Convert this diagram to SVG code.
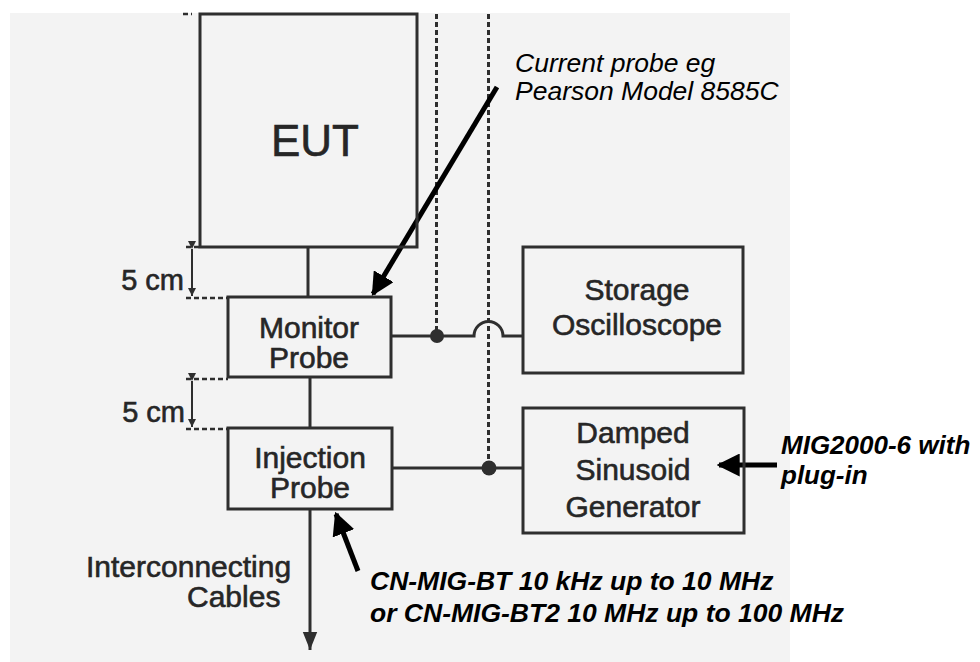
<svg xmlns="http://www.w3.org/2000/svg" width="980" height="662" viewBox="0 0 980 662">
<style>
.box{fill:none;stroke:#2e2e2e;stroke-width:3}
.wire{fill:none;stroke:#2e2e2e;stroke-width:3}
.dot{fill:none;stroke:#2e2e2e;stroke-width:3;stroke-dasharray:5 3}
.dash{fill:none;stroke:#2e2e2e;stroke-width:2.5;stroke-dasharray:5 3}
.lbl{font-family:"Liberation Sans",Arial,sans-serif;font-size:30px;fill:#262626;stroke:#262626;stroke-width:0.6}
.note{font-family:"Liberation Sans",Arial,sans-serif;font-style:italic;fill:#000}
.bold{font-weight:bold}
.thick{fill:none;stroke:#000;stroke-width:5}
</style>
<defs>
<marker id="ah" viewBox="0 0 10 10" refX="9" refY="5" markerWidth="4.6" markerHeight="4.6" orient="auto" markerUnits="strokeWidth">
<path d="M0,0 L10,5 L0,10 z" fill="#000"/>
</marker>
<marker id="ah2" viewBox="0 0 10 10" refX="10" refY="5" markerWidth="6" markerHeight="6" orient="auto" markerUnits="strokeWidth">
<path d="M0,1 L10,5 L0,9 z" fill="#2e2e2e"/>
</marker>
<marker id="dimA" viewBox="0 0 10 10" refX="10" refY="5" markerWidth="4" markerHeight="4" orient="auto" markerUnits="strokeWidth">
<path d="M0,0 L10,5 L0,10 z" fill="#2e2e2e"/>
</marker>
</defs>
<rect x="10" y="13" width="780" height="649" fill="#f3f3f3"/>

<g id="connectors">
<line class="dot" x1="436.5" y1="14" x2="436.5" y2="336"/>
<line class="dot" x1="488.5" y1="14" x2="488.5" y2="468"/>
<line class="wire" x1="308" y1="247" x2="308" y2="298"/>
<line class="wire" x1="310" y1="377" x2="310" y2="428"/>
<path class="wire" d="M391,336 H474 A14.5,14.5 0 0 1 503,336 H523"/>
<circle cx="437" cy="336" r="7" fill="#2e2e2e"/>
<line class="wire" x1="392" y1="468" x2="523" y2="468"/>
<circle cx="489" cy="468" r="7.5" fill="#2e2e2e"/>
<line class="wire" x1="310" y1="509" x2="310" y2="650" marker-end="url(#ah2)"/>
<line class="thick" x1="497" y1="87" x2="373" y2="294" marker-end="url(#ah)"/>
<line class="thick" x1="777" y1="465" x2="719" y2="465" marker-end="url(#ah)"/>
<line class="thick" x1="358" y1="571" x2="336" y2="514" marker-end="url(#ah)"/>
</g>

<g id="dimensions">
<line class="dash" x1="183" y1="14" x2="192" y2="14"/>
<line class="dash" x1="186" y1="247" x2="200" y2="247"/>
<line class="dash" x1="186" y1="298" x2="228" y2="298"/>
<line x1="192" y1="249" x2="192" y2="296" stroke="#2e2e2e" stroke-width="2" marker-start="url(#dimA)" marker-end="url(#dimA)"/>
<text class="lbl" x="184" y="290" text-anchor="end" style="font-size:29px">5 cm</text>
<line class="dash" x1="186" y1="379" x2="228" y2="379"/>
<line class="dash" x1="186" y1="429" x2="228" y2="429"/>
<line x1="192" y1="381" x2="192" y2="427" stroke="#2e2e2e" stroke-width="2" marker-start="url(#dimA)" marker-end="url(#dimA)"/>
<text class="lbl" x="185" y="422" text-anchor="end" style="font-size:29px">5 cm</text>
</g>

<g id="eut">
<rect class="box" x="200" y="14" width="217" height="233"/>
<text class="lbl" x="315" y="156" text-anchor="middle" style="font-size:44px">EUT</text>
</g>

<g id="monitor-probe">
<rect class="box" x="228" y="297" width="163" height="80"/>
<text class="lbl" x="309" y="338" text-anchor="middle">Monitor</text>
<text class="lbl" x="309" y="368" text-anchor="middle">Probe</text>
</g>

<g id="injection-probe">
<rect class="box" x="228" y="428" width="164" height="81"/>
<text class="lbl" x="310" y="468" text-anchor="middle">Injection</text>
<text class="lbl" x="310" y="498" text-anchor="middle">Probe</text>
</g>

<g id="storage-oscilloscope">
<rect class="box" x="523" y="247" width="220" height="126"/>
<text class="lbl" x="637" y="300" text-anchor="middle">Storage</text>
<text class="lbl" x="637" y="335" text-anchor="middle">Oscilloscope</text>
</g>

<g id="damped-sinusoid-generator">
<rect class="box" x="523" y="408" width="221" height="125"/>
<text class="lbl" x="633" y="443" text-anchor="middle">Damped</text>
<text class="lbl" x="633" y="480" text-anchor="middle">Sinusoid</text>
<text class="lbl" x="633" y="517" text-anchor="middle">Generator</text>
</g>

<g id="cables-label">
<text class="lbl" x="86" y="577">Interconnecting</text>
<text class="lbl" x="187" y="607">Cables</text>
</g>

<g id="annotations">
<text class="note" x="515" y="72" font-size="26.5">Current probe eg</text>
<text class="note" x="515" y="100" font-size="26.5">Pearson Model 8585C</text>
<text class="note bold" x="781" y="454" font-size="26">MIG2000-6 with</text>
<text class="note bold" x="781" y="484" font-size="26">plug-in</text>
<text class="note bold" x="370" y="590" font-size="26.5">CN-MIG-BT 10 kHz up to 10 MHz</text>
<text class="note bold" x="370" y="622" font-size="26.5">or CN-MIG-BT2 10 MHz up to 100 MHz</text>
</g>
</svg>
